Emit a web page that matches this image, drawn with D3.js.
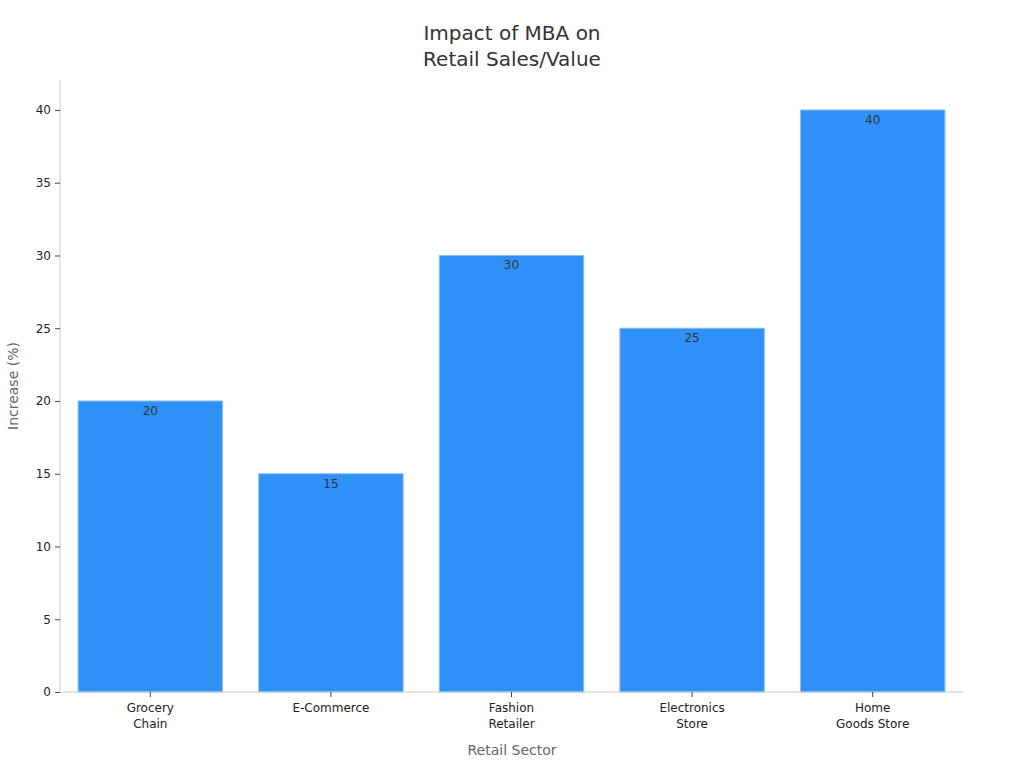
<!DOCTYPE html>
<html><head><meta charset="utf-8">
<script src="https://cdn.jsdelivr.net/npm/d3@7/dist/d3.min.js"></script>
<style>body{margin:0;background:#fff}text{font-family:"DejaVu Sans",sans-serif}</style>
</head><body><svg id="c" width="1024" height="768"></svg>
<script>
const categories = [["Grocery","Chain"],["E-Commerce"],["Fashion","Retailer"],["Electronics","Store"],["Home","Goods Store"]];
const values = [20,15,30,25,40];
const yTicks = [0,5,10,15,20,25,30,35,40];

const svg = d3.select("#c");
const m = {l:60, r:963, t:80, b:692};
const x = d3.scaleBand().domain(d3.range(values.length)).range([m.l,m.r]).paddingInner(0.2).paddingOuter(0.1);
const y = d3.scaleLinear().domain([0,42.06]).range([m.b,m.t]);

svg.selectAll("rect.bar").data(values).join("rect")
  .attr("x",(d,i)=>x(i)).attr("width",x.bandwidth())
  .attr("y",d=>y(d)).attr("height",d=>y(0)-y(d))
  .attr("fill","#2f91f5").attr("stroke","#8cc0f7").attr("stroke-width",1);

svg.selectAll("text.val").data(values).join("text")
  .attr("x",(d,i)=>x(i)+x.bandwidth()/2).attr("y",d=>y(d)+14)
  .attr("text-anchor","middle").attr("font-size",12).attr("fill","#333").text(d=>d);

const ya = svg.append("g").attr("transform",`translate(${m.l},0)`)
  .call(d3.axisLeft(y).tickValues(yTicks).tickSize(5).tickPadding(4));
ya.selectAll("text").attr("font-size",12).attr("fill","#222").style("font-family","DejaVu Sans");
ya.selectAll("line").attr("stroke","#444");
ya.select(".domain").attr("stroke","#ccc").attr("d",`M0,${m.t}V${m.b}`);

const xa = svg.append("g").attr("transform",`translate(0,${m.b})`)
  .call(d3.axisBottom(x).tickSize(5).tickFormat(""));
xa.selectAll("line").attr("stroke","#444");
xa.select(".domain").attr("stroke","#ccc").attr("d",`M${m.l},0H${m.r}`);
xa.selectAll(".tick").each(function(d){
  const t = d3.select(this).append("text").attr("fill","#222").attr("font-size",12).attr("text-anchor","middle");
  categories[d].forEach((s,k)=>t.append("tspan").attr("x",0).attr("y",20+k*16).text(s));
});

svg.append("text").attr("x",512).attr("y",40).attr("text-anchor","middle").attr("font-size",20).attr("fill","#333").text("Impact of MBA on");
svg.append("text").attr("x",512).attr("y",66).attr("text-anchor","middle").attr("font-size",20).attr("fill","#333").text("Retail Sales/Value");
svg.append("text").attr("x",512).attr("y",755).attr("text-anchor","middle").attr("font-size",14).attr("fill","#666").text("Retail Sector");
svg.append("text").attr("transform","translate(18,386) rotate(-90)").attr("text-anchor","middle").attr("font-size",14).attr("fill","#666").text("Increase (%)");
</script></body></html>
